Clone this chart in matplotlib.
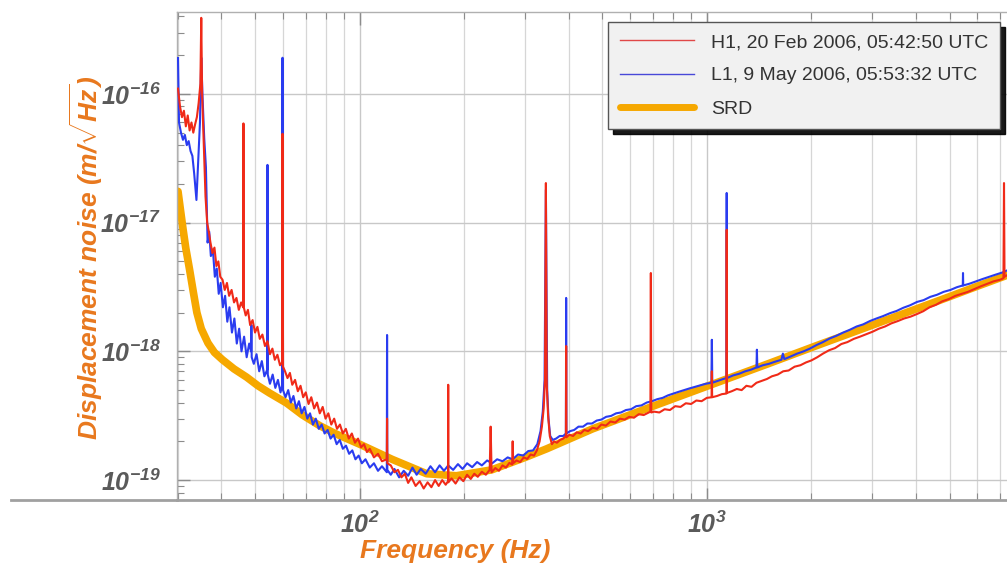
import numpy as np
import matplotlib
matplotlib.use("Agg")
import matplotlib.pyplot as plt
from matplotlib.ticker import LogLocator, FixedLocator, FuncFormatter, NullFormatter
from matplotlib.lines import Line2D

# fonts: bold oblique sans for axes text, mathtext in the same face
plt.rcParams.update({
    "font.family": ["Liberation Sans", "DejaVu Sans"],
    "mathtext.fontset": "custom",
    "mathtext.rm": "Liberation Sans:italic:bold",
    "mathtext.it": "Liberation Sans:italic:bold",
    "mathtext.bf": "Liberation Sans:italic:bold",
})

# (frequency [Hz], displacement noise [m/rtHz])
h1_points = [
    (30.0, 1.10e-16), (30.4, 8.0e-17), (30.8, 6.6e-17), (31.2, 7.4e-17), (31.6, 5.6e-17),
    (32.0, 6.8e-17), (32.4, 5.2e-17), (32.8, 6.0e-17), (33.2, 5.0e-17), (33.6, 5.8e-17),
    (34.0, 6.6e-17), (34.4, 8.5e-17), (34.8, 1.2e-16), (35.0, 3.9e-16), (35.2, 1.0e-16),
    (35.6, 4.0e-17), (36.0, 1.6e-17), (36.4, 1.0e-17), (36.8, 8.5e-18), (37.2, 7.0e-18),
    (37.7, 5.8e-18), (38.2, 6.4e-18), (38.7, 4.6e-18), (39.2, 5.0e-18), (39.7, 3.8e-18),
    (40.3, 3.6e-18), (40.9, 3.0e-18), (41.5, 3.4e-18), (42.1, 2.7e-18), (42.8, 3.0e-18),
    (43.5, 2.4e-18), (44.2, 2.6e-18), (44.9, 2.1e-18), (45.6, 2.4e-18), (46.2, 2.2e-18),
    (46.3, 5.9e-17), (46.4, 2.2e-18), (47.0, 1.9e-18), (47.7, 2.1e-18), (48.4, 1.6e-18),
    (49.2, 1.75e-18), (50.0, 1.4e-18), (50.8, 1.55e-18), (51.6, 1.25e-18), (52.5, 1.35e-18),
    (53.4, 1.1e-18), (54.3, 1.2e-18), (55.2, 9.5e-19), (56.1, 1.05e-18), (57.0, 8.6e-19),
    (58.0, 9.4e-19), (59.0, 7.8e-19), (59.8, 8.2e-19), (60.0, 4.9e-17), (60.2, 7.6e-19),
    (61.0, 7.0e-19), (62.0, 6.2e-19), (63.0, 6.8e-19), (64.0, 5.5e-19), (65.2, 6.0e-19),
    (66.4, 4.9e-19), (67.6, 5.4e-19), (68.8, 4.4e-19), (70.0, 4.8e-19), (71.3, 3.9e-19),
    (72.6, 4.4e-19), (74.0, 3.6e-19), (75.4, 4.0e-19), (76.8, 3.3e-19), (78.3, 3.7e-19),
    (79.8, 3.0e-19), (81.3, 3.3e-19), (82.9, 2.7e-19), (84.5, 3.0e-19), (86.1, 2.5e-19),
    (87.8, 2.7e-19), (89.5, 2.3e-19), (91.3, 2.5e-19), (93.1, 2.1e-19), (95.0, 2.3e-19),
    (97.0, 1.95e-19), (99.0, 2.1e-19), (101, 1.8e-19), (103, 1.9e-19), (105, 1.65e-19),
    (107, 1.75e-19), (110, 1.5e-19), (113, 1.6e-19), (116, 1.4e-19), (119.8, 1.45e-19),
    (120.0, 3.0e-19), (120.2, 1.35e-19), (123, 1.3e-19), (126, 1.15e-19), (129, 1.2e-19),
    (132, 1.05e-19), (135, 1.12e-19), (138, 9.5e-20), (141, 1.05e-19), (145, 9.0e-20),
    (149, 9.8e-20), (153, 8.6e-20), (157, 9.6e-20), (161, 8.8e-20), (165, 1.0e-19),
    (169, 9.0e-20), (173, 1.0e-19), (177, 9.2e-20), (179.8, 9.8e-20), (180.0, 5.5e-19),
    (180.2, 9.6e-20), (184, 1.03e-19), (189, 9.4e-20), (194, 1.05e-19), (199, 9.8e-20),
    (204, 1.1e-19), (209, 1.02e-19), (214, 1.12e-19), (219, 1.06e-19), (225, 1.16e-19),
    (231, 1.1e-19), (237, 1.2e-19), (238.5, 2.6e-19), (240, 1.15e-19), (246, 1.24e-19),
    (252, 1.18e-19), (258, 1.3e-19), (264, 1.25e-19), (270, 1.36e-19), (275, 1.32e-19),
    (276, 2.0e-19), (277, 1.35e-19), (283, 1.42e-19), (290, 1.38e-19), (297, 1.5e-19),
    (304, 1.46e-19), (311, 1.58e-19), (318, 1.55e-19), (324, 1.7e-19), (330, 2.0e-19),
    (335, 2.6e-19), (339, 3.6e-19), (342, 6.0e-19), (344, 2.03e-17), (346, 5.5e-19),
    (349, 3.2e-19), (353, 2.2e-19), (358, 1.9e-19), (363, 2.0e-19), (370, 1.95e-19),
    (378, 2.05e-19), (386, 2.1e-19), (392.8, 2.2e-19), (393.5, 1.1e-18), (394.2, 2.15e-19),
    (402, 2.25e-19), (412, 2.2e-19), (422, 2.35e-19), (433, 2.3e-19), (444, 2.45e-19),
    (455, 2.4e-19), (469, 2.55e-19), (483, 2.5e-19), (497, 2.7e-19), (512, 2.65e-19),
    (528, 2.85e-19), (545, 2.8e-19), (562, 3.0e-19), (580, 2.95e-19), (598, 3.1e-19),
    (617, 3.05e-19), (637, 3.25e-19), (658, 3.2e-19), (680, 3.35e-19), (688, 3.4e-19),
    (690, 4.06e-18), (692, 3.35e-19), (705, 3.4e-19), (730, 3.35e-19), (756, 3.55e-19),
    (783, 3.5e-19), (811, 3.75e-19), (840, 3.7e-19), (870, 3.95e-19), (901, 3.9e-19),
    (933, 4.15e-19), (966, 4.1e-19), (1000, 4.35e-19), (1032, 4.4e-19), (1034, 7.0e-19),
    (1036, 4.4e-19), (1070, 4.5e-19), (1105, 4.65e-19), (1139, 4.7e-19), (1141, 8.8e-18),
    (1143, 4.75e-19), (1180, 4.9e-19), (1220, 5.1e-19), (1260, 5.0e-19), (1300, 5.4e-19),
    (1345, 5.3e-19), (1390, 5.7e-19), (1440, 5.9e-19), (1490, 6.1e-19), (1540, 6.4e-19),
    (1600, 6.6e-19), (1660, 7.0e-19), (1720, 7.1e-19), (1790, 7.6e-19), (1860, 7.8e-19),
    (1930, 8.2e-19), (2000, 8.5e-19), (2080, 9.0e-19), (2160, 9.6e-19), (2250, 1.02e-18),
    (2340, 1.06e-18), (2440, 1.14e-18), (2540, 1.18e-18), (2650, 1.25e-18), (2760, 1.3e-18),
    (2880, 1.36e-18), (3000, 1.42e-18), (3130, 1.5e-18), (3260, 1.56e-18), (3400, 1.65e-18),
    (3550, 1.72e-18), (3700, 1.8e-18), (3860, 1.86e-18), (4030, 1.95e-18), (4200, 2.05e-18),
    (4380, 2.2e-18), (4570, 2.3e-18), (4770, 2.45e-18), (4980, 2.55e-18), (5200, 2.7e-18),
    (5420, 2.8e-18), (5650, 2.9e-18), (5900, 3.05e-18), (6150, 3.2e-18), (6420, 3.35e-18),
    (6700, 3.5e-18), (6990, 3.6e-18), (7150, 3.7e-18), (7176, 2.03e-17), (7200, 3.8e-18),
    (7320, 3.9e-18),
]

l1_points = [
    (30.0, 1.9e-16), (30.2, 6.0e-17), (30.6, 5.0e-17), (31.0, 4.4e-17), (31.4, 4.8e-17),
    (31.8, 4.0e-17), (32.2, 4.3e-17), (32.6, 3.6e-17), (33.0, 3.3e-17), (33.4, 2.4e-17),
    (33.9, 1.5e-17), (34.3, 3.0e-17), (34.7, 6.0e-17), (35.0, 1.91e-16), (35.3, 9.5e-17),
    (35.7, 4.5e-17), (36.1, 2.7e-17), (36.5, 7.0e-18), (36.9, 8.5e-18), (37.3, 5.5e-18),
    (37.8, 6.2e-18), (38.3, 3.8e-18), (38.8, 4.4e-18), (39.3, 2.8e-18), (39.8, 3.4e-18),
    (40.4, 2.2e-18), (41.0, 2.7e-18), (41.6, 1.7e-18), (42.2, 2.2e-18), (42.9, 1.4e-18),
    (43.6, 1.8e-18), (44.3, 1.15e-18), (45.0, 1.5e-18), (45.7, 1.0e-18), (46.5, 1.3e-18),
    (47.3, 9.0e-19), (48.1, 1.15e-18), (48.7, 1.0e-18), (48.8, 1.6e-18), (48.9, 9.0e-19),
    (49.6, 8.0e-19), (50.5, 9.5e-19), (51.4, 7.0e-19), (52.3, 8.4e-19), (53.2, 6.4e-19),
    (54.2, 7.2e-19), (54.3, 2.81e-17), (54.4, 6.6e-19), (55.2, 5.6e-19), (56.2, 6.6e-19),
    (57.2, 5.2e-19), (58.2, 6.0e-19), (59.2, 4.8e-19), (59.8, 5.4e-19), (60.0, 1.91e-16),
    (60.2, 5.0e-19), (61.2, 4.4e-19), (62.3, 5.0e-19), (63.4, 4.0e-19), (64.5, 4.5e-19),
    (65.7, 3.6e-19), (66.9, 4.1e-19), (68.1, 3.3e-19), (69.4, 3.7e-19), (70.7, 3.0e-19),
    (72.0, 3.3e-19), (73.4, 2.7e-19), (74.8, 3.0e-19), (76.3, 2.5e-19), (77.8, 2.7e-19),
    (79.3, 2.3e-19), (80.9, 2.45e-19), (82.5, 2.1e-19), (84.2, 2.25e-19), (85.9, 1.9e-19),
    (87.7, 2.05e-19), (89.5, 1.75e-19), (91.4, 1.85e-19), (93.3, 1.6e-19), (95.3, 1.7e-19),
    (97.3, 1.45e-19), (99.4, 1.55e-19), (101.5, 1.35e-19), (104, 1.45e-19), (107, 1.25e-19),
    (110, 1.35e-19), (113, 1.18e-19), (116, 1.28e-19), (119.8, 1.15e-19), (120.0, 1.34e-18),
    (120.2, 1.2e-19), (123, 1.1e-19), (126, 1.22e-19), (130, 1.05e-19), (134, 1.18e-19),
    (138, 1.08e-19), (142, 1.25e-19), (146, 1.1e-19), (150, 1.22e-19), (155, 1.12e-19),
    (160, 1.28e-19), (165, 1.15e-19), (170, 1.3e-19), (175, 1.18e-19), (180, 1.3e-19),
    (186, 1.2e-19), (192, 1.33e-19), (198, 1.22e-19), (204, 1.35e-19), (211, 1.26e-19),
    (218, 1.38e-19), (225, 1.3e-19), (233, 1.42e-19), (241, 1.35e-19), (249, 1.45e-19),
    (258, 1.4e-19), (267, 1.5e-19), (276, 1.45e-19), (286, 1.58e-19), (296, 1.55e-19),
    (306, 1.68e-19), (316, 1.7e-19), (325, 1.9e-19), (332, 2.4e-19), (337, 3.4e-19),
    (341, 6.0e-19), (344, 1.8e-17), (347, 5.0e-19), (350, 3.0e-19), (354, 2.2e-19),
    (360, 2.05e-19), (368, 2.1e-19), (377, 2.2e-19), (386, 2.2e-19), (392.8, 2.3e-19),
    (393.5, 2.6e-18), (394.2, 2.3e-19), (404, 2.4e-19), (415, 2.45e-19), (427, 2.6e-19),
    (440, 2.6e-19), (453, 2.75e-19), (467, 2.75e-19), (482, 2.9e-19), (497, 2.95e-19),
    (513, 3.1e-19), (530, 3.15e-19), (548, 3.3e-19), (566, 3.35e-19), (585, 3.5e-19),
    (605, 3.55e-19), (626, 3.75e-19), (648, 3.8e-19), (671, 4.0e-19), (695, 4.1e-19),
    (720, 4.25e-19), (746, 4.35e-19), (773, 4.55e-19), (801, 4.7e-19), (830, 4.85e-19),
    (860, 5.0e-19), (891, 5.15e-19), (924, 5.3e-19), (958, 5.45e-19), (993, 5.6e-19),
    (1031, 5.7e-19), (1034, 1.23e-18), (1037, 5.7e-19), (1075, 5.9e-19), (1115, 6.1e-19),
    (1139, 6.2e-19), (1141, 1.7e-17), (1143, 6.2e-19), (1190, 6.5e-19), (1240, 6.7e-19),
    (1290, 7.0e-19), (1340, 7.2e-19), (1390, 7.5e-19), (1394, 1.03e-18), (1398, 7.5e-19),
    (1450, 7.8e-19), (1510, 8.0e-19), (1570, 8.3e-19), (1640, 8.6e-19), (1656, 9.6e-19),
    (1672, 8.7e-19), (1740, 9.1e-19), (1820, 9.6e-19), (1900, 1.0e-18), (1980, 1.05e-18),
    (2070, 1.12e-18), (2160, 1.18e-18), (2260, 1.26e-18), (2360, 1.32e-18), (2470, 1.4e-18),
    (2580, 1.47e-18), (2700, 1.56e-18), (2820, 1.62e-18), (2950, 1.72e-18), (3080, 1.8e-18),
    (3220, 1.88e-18), (3370, 1.98e-18), (3520, 2.06e-18), (3680, 2.18e-18), (3850, 2.28e-18),
    (4030, 2.42e-18), (4210, 2.5e-18), (4400, 2.65e-18), (4600, 2.75e-18), (4810, 2.9e-18),
    (5030, 3.0e-18), (5250, 3.15e-18), (5460, 3.25e-18), (5468, 4.06e-18), (5476, 3.25e-18),
    (5700, 3.35e-18), (5960, 3.5e-18), (6230, 3.65e-18), (6510, 3.8e-18), (6800, 3.95e-18),
    (7100, 4.1e-18), (7320, 4.25e-18),
]

srd_points = [
    (30.0, 1.75e-17), (30.5, 1.25e-17), (31.0, 9.0e-18), (31.6, 6.3e-18), (32.4, 4.3e-18),
    (33.2, 2.9e-18), (34.0, 2.0e-18), (35.0, 1.5e-18), (36.6, 1.16e-18), (38.2, 9.8e-19),
    (40.3, 8.6e-19), (43.5, 7.3e-19), (47.3, 6.3e-19), (51.0, 5.4e-19), (55.0, 4.75e-19),
    (61.6, 3.97e-19), (68.5, 3.2e-19), (76.7, 2.65e-19), (85, 2.3e-19), (100, 1.9e-19),
    (124, 1.45e-19), (156, 1.12e-19), (190, 1.08e-19), (240, 1.2e-19), (300, 1.5e-19),
    (346, 1.75e-19), (469, 2.5e-19), (700, 3.75e-19), (1000, 5.35e-19), (1500, 8.0e-19),
    (2000, 1.07e-18), (3000, 1.6e-18), (4000, 2.13e-18), (5000, 2.66e-18), (6000, 3.2e-18),
    (7320, 3.9e-18),
]

series_labels = [
    "H1, 20 Feb 2006, 05:42:50 UTC",
    "L1, 9 May 2006, 05:53:32 UTC",
    "SRD",
]

h1_f, h1_x = np.array(h1_points).T
l1_f, l1_x = np.array(l1_points).T
srd_f, srd_x = np.array(srd_points).T

ORANGE_TXT = "#e8781e"
TICK_TXT = "#5a5a5a"

fig = plt.figure(figsize=(10.07, 5.66), dpi=100)
ax = fig.add_axes([177 / 1007, 66 / 566, 830 / 1007, 488 / 566])

ax.loglog(srd_f, srd_x, color="#f6a800", lw=5.5, solid_capstyle="round",
          label=series_labels[2], zorder=2)
ax.loglog(l1_f, l1_x, color="#2a3cf0", lw=1.5, label=series_labels[1], zorder=3)
ax.loglog(h1_f, h1_x, color="#f02a18", lw=1.5, label=series_labels[0], zorder=4)

ax.set_xlim(29.8, 7320)
ax.set_ylim(7.0e-20, 4.33e-16)

# grid: vertical lines at every decade step, horizontal only at decades
ax.xaxis.set_major_locator(FixedLocator([1e2, 1e3]))
ax.xaxis.set_minor_locator(LogLocator(base=10, subs=np.arange(2, 10)))
ax.yaxis.set_major_locator(FixedLocator([1e-19, 1e-18, 1e-17, 1e-16]))
ax.yaxis.set_minor_locator(LogLocator(base=10, subs=np.arange(2, 10)))
ax.grid(True, which="major", axis="both", color="#c8c8c8", lw=1.0)
ax.grid(True, which="minor", axis="x", color="#d6d6d6", lw=0.9)
ax.set_axisbelow(True)

fmt = FuncFormatter(lambda v, _: r"$\mathrm{10^{%d}}$" % int(round(np.log10(v))))
ax.xaxis.set_major_formatter(fmt)
ax.yaxis.set_major_formatter(fmt)
ax.xaxis.set_minor_formatter(NullFormatter())
ax.yaxis.set_minor_formatter(NullFormatter())

ax.tick_params(which="both", direction="in", color="#8c8c8c", top=True,
               labelsize=18, labelcolor=TICK_TXT)
ax.tick_params(which="major", length=9, width=1.0)
ax.tick_params(which="minor", length=5, width=0.8)
ax.tick_params(axis="x", pad=8)
ax.tick_params(axis="y", pad=12)

for side in ("left", "top"):
    ax.spines[side].set_color("#b0b0b0")
    ax.spines[side].set_linewidth(1.0)
ax.spines["bottom"].set_color("#a0a0a0")
ax.spines["bottom"].set_linewidth(2.0)
ax.spines["right"].set_visible(False)

# the baseline runs on to the left edge of the picture
fig.add_artist(Line2D([11 / 1007, 177 / 1007], [66 / 566, 66 / 566],
                      transform=fig.transFigure, color="#a0a0a0", lw=2.0))

fig.text(455 / 1007, 1 - 551 / 566, "Frequency (Hz)", ha="center", va="center",
         fontsize=19, fontweight="bold", fontstyle="italic", color=ORANGE_TXT)
fig.text(86 / 1007, 1 - 258 / 566, r"Displacement noise (m/$\sqrt{\mathrm{Hz}}$)",
         ha="center", va="center", rotation=90,
         fontsize=19, fontweight="bold", fontstyle="italic", color=ORANGE_TXT)

handles, labels = ax.get_legend_handles_labels()
order = [labels.index(s) for s in series_labels]
leg = ax.legend([handles[i] for i in order], [labels[i] for i in order],
                loc="upper right", bbox_to_anchor=(1000 / 1007, 1 - 22 / 566),
                bbox_transform=fig.transFigure, borderaxespad=0,
                fontsize=14, handlelength=3.8, handletextpad=0.9,
                borderpad=0.6, labelspacing=0.8, fancybox=False,
                framealpha=1.0, facecolor="#f1f1f1", edgecolor="#555555",
                shadow={"ox": 3.5, "oy": -3.5, "color": "black", "alpha": 0.9})
leg.get_frame().set_linewidth(1.0)
for txt in leg.get_texts():
    txt.set_color("#333333")
leg_lines = leg.get_lines()
leg_lines[0].set_color("#e04848")
leg_lines[0].set_linewidth(1.0)
leg_lines[1].set_color("#4848d8")
leg_lines[1].set_linewidth(1.0)
leg_lines[2].set_linewidth(5.0)

fig.savefig("out.png", dpi=100)
